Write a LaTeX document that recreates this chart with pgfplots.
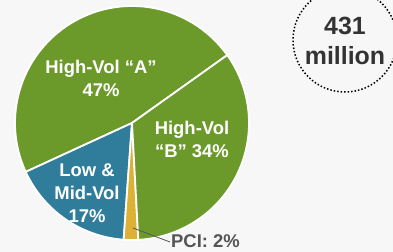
\documentclass[border=0pt]{standalone}
\usepackage{pgfplots}
\pgfplotsset{compat=1.18}
\usepackage{pgfplotstable}
\usepackage{fontspec}
\setmainfont{Liberation Sans}
\definecolor{pgreen}{HTML}{6B9A2B}
\definecolor{pblue}{HTML}{2F7D9B}
\definecolor{pyellow}{HTML}{DDB136}
\definecolor{bg}{HTML}{F7F7F7}
\definecolor{tgray}{HTML}{555555}
\pgfplotstableread{
name share color
A 47 pgreen
Low 17 pblue
PCI 2 pyellow
B 34 pgreen
}\slices
\begin{document}
\begin{tikzpicture}
\begin{axis}[
  width=393bp, height=252bp, scale only axis,
  xmin=-132, xmax=261, ymin=-129, ymax=123,
  axis lines=none, enlargelimits=false, clip=true,
]
\fill[bg] (axis cs:-132,-129) rectangle (axis cs:261,123);
\pgfmathsetmacro{\start}{35.5}
\pgfplotstablegetrowsof{\slices}
\pgfmathtruncatemacro{\nrows}{\pgfplotsretval-1}
\def\cum{\start}
\foreach \i in {0,...,\nrows}{
  \pgfplotstablegetelem{\i}{share}\of{\slices}\let\sh\pgfplotsretval
  \pgfplotstablegetelem{\i}{color}\of{\slices}\let\col\pgfplotsretval
  \pgfmathsetmacro{\a}{\cum}
  \pgfmathsetmacro{\b}{\cum+3.6*\sh}
  \xdef\cum{\b}
  \edef\doplot{\noexpand\addplot[fill=\col, draw=white, line width=1.8pt, line join=round, data cs=polar, domain=\a:\b, samples=60] ({x},{117}) -- (axis cs:0,0) -- cycle;}
  \doplot
}
\node[font=\bfseries\fontsize{18.5}{23}\selectfont, text=white, align=center] at (axis cs:-31,45) {High-Vol “A”\\47\%};
\node[font=\bfseries\fontsize{18.5}{23}\selectfont, text=white, align=center] at (axis cs:60,-16) {High-Vol\\“B” 34\%};
\node[font=\bfseries\fontsize{18.5}{23}\selectfont, text=white, align=center] at (axis cs:-45,-70) {Low \&\\Mid-Vol\\17\%};
\draw[tgray, line width=0.8pt] (axis cs:1,-105) -- (axis cs:38,-119);
\node[font=\bfseries\fontsize{18.5}{20}\selectfont, text=tgray, anchor=west, inner sep=1pt] at (axis cs:38,-118) {PCI: 2\%};
\draw[black, line width=1.5pt, dotted] (axis cs:213,83) circle[radius=52];
\node[font=\bfseries\fontsize{25}{30}\selectfont, text=black!80, align=center] at (axis cs:213,82) {431\\million};
\end{axis}
\end{tikzpicture}
\end{document}
